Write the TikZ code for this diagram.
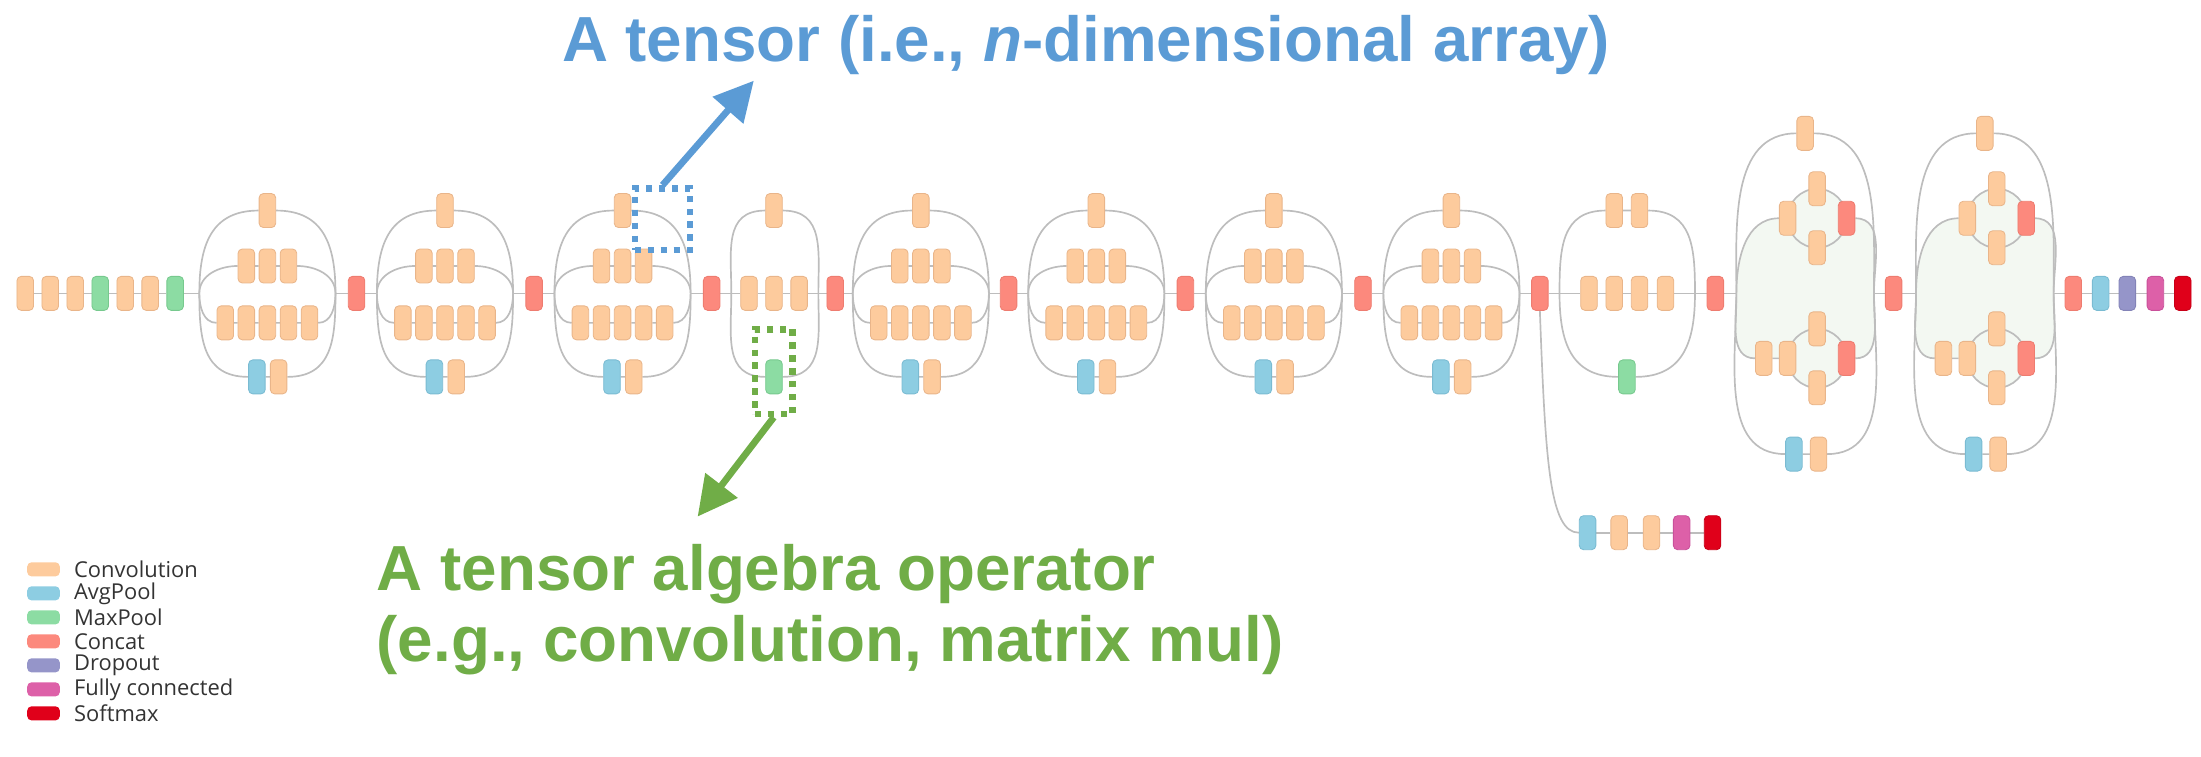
\documentclass[tikz,border=0pt]{standalone}
\usepackage{fontspec}
\setmainfont{Liberation Sans}
\newfontfamily\legendfont{Open Sans}
\usetikzlibrary{arrows.meta, backgrounds, positioning}

\definecolor{convfill}{HTML}{FDCB9D}\definecolor{convdraw}{HTML}{E9B58A}
\definecolor{avgpfill}{HTML}{8DCDE2}\definecolor{avgpdraw}{HTML}{7ABBD2}
\definecolor{maxpfill}{HTML}{8CDCA3}\definecolor{maxpdraw}{HTML}{77C98E}
\definecolor{catfill}{HTML}{FC897D}\definecolor{catdraw}{HTML}{EE7C70}
\definecolor{dropfill}{HTML}{9595C9}\definecolor{dropdraw}{HTML}{8383B7}
\definecolor{fcfill}{HTML}{DD60A8}\definecolor{fcdraw}{HTML}{C9509A}
\definecolor{softfill}{HTML}{E0001A}\definecolor{softdraw}{HTML}{C80018}
\definecolor{edgegray}{HTML}{BDBDBD}
\definecolor{blobgreen}{HTML}{F3F8F2}
\definecolor{tensorblue}{HTML}{5B9BD5}
\definecolor{opgreen}{HTML}{70AD47}

\tikzset{
    op/.style={rectangle, rounded corners=1.5pt, minimum width=5.9pt, minimum height=12.1pt, inner sep=0pt, line width=0.3pt},
    conv/.style={op, fill=convfill, draw=convdraw},
    avgp/.style={op, fill=avgpfill, draw=avgpdraw},
    maxp/.style={op, fill=maxpfill, draw=maxpdraw},
    cat/.style={op, fill=catfill, draw=catdraw},
    drop/.style={op, fill=dropfill, draw=dropdraw},
    fc/.style={op, fill=fcfill, draw=fcdraw},
    soft/.style={op, fill=softfill, draw=softdraw},
    edge/.style={draw=edgegray, line width=0.6pt},
    outer/.style={edge, looseness=1.2},
    blob/.style={fill=blobgreen},
    selbox/.style={rectangle, inner sep=0pt, line width=2.3pt, dash pattern=on 2.3pt off 2.3pt},
    callout/.style={line width=2.4pt, -{Triangle[length=14pt, width=14pt]}},
    bigtext/.style={inner sep=0pt, font=\bfseries\fontsize{22.7}{27}\selectfont},
}

% Inception-A style block: #1 name, #2 centre x
\newcommand{\incA}[2]{%
    \coordinate (#1L) at ({#2-48.5},-209);
    \coordinate (#1R) at ({#2+48.5},-209);
    \node[conv] (#1t) at (#2,-150) {};
    \foreach \i/\dx in {1/-15,2/0,3/15}
        \node[conv] (#1b\i) at ({#2+\dx},-189.5) {};
    \foreach \i/\dx in {1/-30,2/-15,3/0,4/15,5/30}
        \node[conv] (#1c\i) at ({#2+\dx},-230) {};
    \node[avgp] (#1p) at ({#2-7.5},-268.5) {};
    \node[conv] (#1q) at ({#2+8},-268.5) {};
    \begin{scope}[on background layer]
        \draw[outer] (#1L) to[out=90,in=180] (#1t.west) (#1t.east) to[out=0,in=90] (#1R);
        \draw[edge] (#1L) to[out=90,in=180] (#1b1.west) (#1b1) -- (#1b2) -- (#1b3) (#1b3.east) to[out=0,in=90] (#1R);
        \draw[edge] (#1L) to[out=-90,in=180] (#1c1.west) (#1c1) -- (#1c2) -- (#1c3) -- (#1c4) -- (#1c5) (#1c5.east) to[out=0,in=-90] (#1R);
        \draw[outer] (#1L) to[out=-90,in=180] (#1p.west) (#1p) -- (#1q) (#1q.east) to[out=0,in=-90] (#1R);
    \end{scope}
}

% Inception-C style block: #1 name, #2 centre x
\newcommand{\incC}[2]{%
    \coordinate (#1L) at ({#2-49},-209);
    \coordinate (#1R) at ({#2+49},-209);
    \coordinate (#1uo) at ({#2+8.5},-155.5);
    \coordinate (#1lo) at ({#2+8.5},-255.3);
    \node[conv] (#1t) at (#2,-95) {};
    \node[conv] (#1u0) at ({#2-12.5},-155.5) {};
    \node[conv] (#1u1) at ({#2+8.5},-134.5) {};
    \node[conv] (#1u2) at ({#2+8.5},-176.5) {};
    \node[cat] (#1uk) at ({#2+29.5},-155.5) {};
    \node[conv] (#1l0) at ({#2-29.5},-255.3) {};
    \node[conv] (#1l1) at ({#2-12.5},-255.3) {};
    \node[conv] (#1l2) at ({#2+8.5},-234.3) {};
    \node[conv] (#1l3) at ({#2+8.5},-276.3) {};
    \node[cat] (#1lk) at ({#2+29.5},-255.3) {};
    \node[avgp] (#1p) at ({#2-8},-323.5) {};
    \node[conv] (#1q) at ({#2+9.5},-323.5) {};
    \begin{scope}[on background layer]
        \fill[blob] (#1L) to[out=90,in=180] (#1u0.west) -- (#1uk.east) to[out=0,in=90] (#1R)
            to[out=-90,in=0] (#1lk.east) -- (#1l0.west) to[out=180,in=-90] (#1L) -- cycle;
        \fill[blob] (#1uo) circle (21) (#1lo) circle (21);
        \draw[edge] (#1uo) circle (21) (#1lo) circle (21);
        \draw[edge] (#1L) to[out=90,in=180] (#1t.west) (#1t.east) to[out=0,in=90] (#1R);
        \draw[edge] (#1L) to[out=90,in=180] (#1u0.west) (#1uk.east) to[out=0,in=90] (#1R);
        \draw[edge] (#1L) to[out=-90,in=180] (#1l0.west) (#1l0) -- (#1l1) (#1lk.east) to[out=0,in=-90] (#1R);
        \draw[edge] (#1L) to[out=-90,in=180] (#1p.west) (#1p) -- (#1q) (#1q.east) to[out=0,in=-90] (#1R);
    \end{scope}
}

\begin{document}
\begin{tikzpicture}[x=0.5pt, y=0.5pt]
\useasboundingbox (0,0) rectangle (1568,-539);

% Stem
\foreach \i/\kind in {1/conv,2/conv,3/conv,4/maxp,5/conv,6/conv,7/maxp}
    \node[\kind] (s\i) at ({18+17.8*(\i-1)},-209) {};

% Blocks
\incA{m1}{190.5}
\incA{m2}{317}
\incA{m3}{443.5}

% Reduction A
\coordinate (m4L) at (521,-209);
\coordinate (m4R) at (583,-209);
\node[conv] (m4t) at (551.4,-150) {};
\node[conv] (m4r1) at (533.6,-209) {};
\node[conv] (m4r2) at (551.4,-209) {};
\node[conv] (m4r3) at (569.3,-209) {};
\node[maxp] (m4p) at (551.4,-268.5) {};

\incA{m5}{656}
\incA{m6}{781}
\incA{m7}{907.5}
\incA{m8}{1034}

% Reduction B
\coordinate (m9L) at (1111,-209);
\coordinate (m9R) at (1207.5,-209);
\node[conv] (m9t1) at (1150,-150) {};
\node[conv] (m9t2) at (1168,-150) {};
\foreach \i/\x in {1/1132,2/1150,3/1168,4/1186.5}
    \node[conv] (m9r\i) at (\x,-209) {};
\node[maxp] (m9p) at (1159,-268.5) {};

\incC{m10}{1286}
\incC{m11}{1414}

% Concats between blocks
\foreach \i/\x in {1/254,2/380.5,3/507,4/595,5/718.5,6/844.5,7/971,8/1097,9/1222,10/1349,11/1477}
    \node[cat] (k\i) at (\x,-209) {};

% Head and auxiliary head
\node[avgp] (h1) at (1496.5,-209) {};
\node[drop] (h2) at (1515.5,-209) {};
\node[fc] (h3) at (1535.5,-209) {};
\node[soft] (h4) at (1555,-209) {};
\node[avgp] (a1) at (1131,-379.5) {};
\node[conv] (a2) at (1153.5,-379.5) {};
\node[conv] (a3) at (1176.5,-379.5) {};
\node[fc] (a4) at (1198,-379.5) {};
\node[soft] (a5) at (1220,-379.5) {};

% Connections
\begin{scope}[on background layer]
    \draw[edge] (s1) -- (s2) -- (s3) -- (s4) -- (s5) -- (s6) -- (s7) -- (m1L);
    \draw[edge] (m1R) -- (k1) -- (m2L) (m2R) -- (k2) -- (m3L) (m3R) -- (k3) -- (m4L);
    \draw[edge] (m4L) -- (m4r1) -- (m4r2) -- (m4r3) -- (m4R) -- (k4) -- (m5L);
    \draw[outer] (m4L) to[out=90,in=180] (m4t.west) (m4t.east) to[out=0,in=90] (m4R);
    \draw[outer] (m4L) to[out=-90,in=180] (m4p.west) (m4p.east) to[out=0,in=-90] (m4R);
    \draw[edge] (m5R) -- (k5) -- (m6L) (m6R) -- (k6) -- (m7L) (m7R) -- (k7) -- (m8L) (m8R) -- (k8) -- (m9L);
    \draw[edge] (m9L) -- (m9r1) -- (m9r2) -- (m9r3) -- (m9r4) -- (m9R) -- (k9) -- (m10L);
    \draw[outer] (m9L) to[out=90,in=180] (m9t1.west) (m9t1) -- (m9t2) (m9t2.east) to[out=0,in=90] (m9R);
    \draw[outer] (m9L) to[out=-90,in=180] (m9p.west) (m9p.east) to[out=0,in=-90] (m9R);
    \draw[edge] (m10R) -- (k10) -- (m11L) (m11R) -- (k11) -- (h1) -- (h2) -- (h3) -- (h4);
    \draw[edge] (k8.south) .. controls (1101,-330) and (1104,-379.5) .. (a1.west);
    \draw[edge] (a1) -- (a2) -- (a3) -- (a4) -- (a5);
\end{scope}

% Callouts
\node[selbox, draw=tensorblue, minimum width=19.7pt, minimum height=22pt] (tensorsel) at (472,-156.2) {};
\node[selbox, draw=opgreen, minimum width=13.5pt, minimum height=30.2pt] (opsel) at (551.2,-264.8) {};
\coordinate (tensortip) at (537,-57.5);
\coordinate (optip) at (497,-368);
\draw[callout, tensorblue] (tensorsel.north) -- (tensortip);
\draw[callout, opgreen] (opsel.south) -- (optip);
\node[bigtext, text=tensorblue, anchor=base west] (tensorlbl) at (400,-44) {A tensor (i.e., \textit{n}-dimensional array)};
\node[bigtext, text=opgreen, anchor=base west] (oplbl) at (268,-421) {A tensor algebra operator};
\node[bigtext, text=opgreen, anchor=base west] (opsub) at (268,-471) {(e.g., convolution, matrix mul)};

% Legend
\foreach \nm/\col [count=\i from 0] in {Convolution/conv,AvgPool/avgp,MaxPool/maxp,Concat/cat,Dropout/drop,Fully connected/fc,Softmax/soft} {
    \node[rectangle, rounded corners=1.5pt, minimum width=11.6pt, minimum height=5pt, inner sep=0pt, fill=\col fill] (key\i) at (31,{-405.6-17.1*\i}) {};
    \node[right=4.7pt of key\i, inner sep=0pt, font=\legendfont\fontsize{7.8}{9}\selectfont, text=black!80] (keylbl\i) {\nm};
}

\end{tikzpicture}
\end{document}
